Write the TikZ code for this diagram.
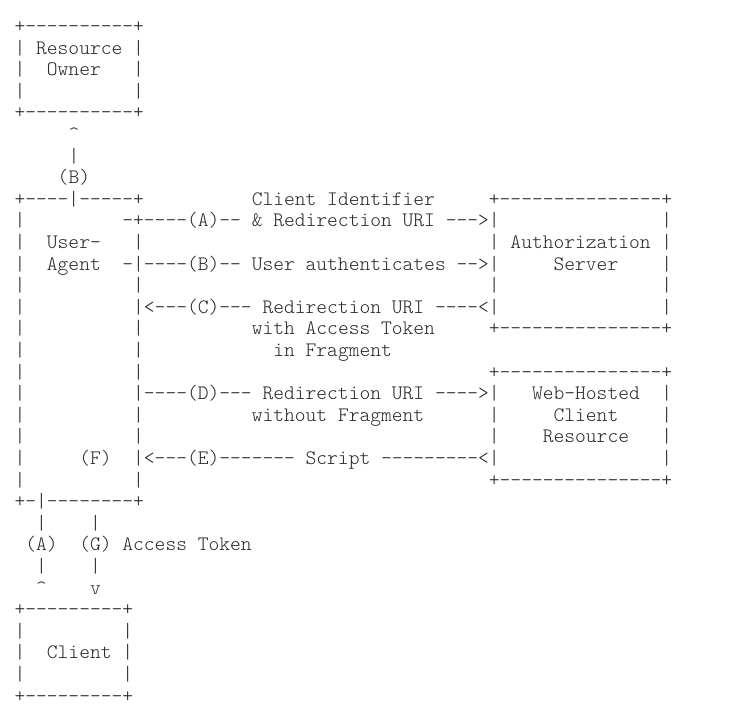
\documentclass[tikz,border=0pt]{standalone}
\usepackage{fontspec}
\setmonofont{lmmonolt10-regular.otf}
\definecolor{ink}{HTML}{262626}
\newcommand\asciirun[4]{\node[asc] (#1) at ({14.6+#3*10.78},{-32.5-(#2-1)*21.6}) {#4};}
\begin{document}
\begin{tikzpicture}[x=1pt,y=1pt,
  asc/.style={anchor=base west, inner sep=0pt, outer sep=0pt, text=ink,
    font=\ttfamily\fontsize{20.533pt}{21.6pt}\selectfont\frenchspacing}]
\useasboundingbox (0,0) rectangle (739,-714);
\fill[white] (0,0) rectangle (739,-714);
% Resource Owner
\asciirun{r1}{1}{0}{+----------+}
\asciirun{r2}{2}{0}{|~Resource~|}
\asciirun{r3}{3}{0}{|~~Owner~~~|}
\asciirun{r4}{4}{0}{|~~~~~~~~~~|}
\asciirun{r5}{5}{0}{+----------+}
\asciirun{r6}{6}{5}{\textasciicircum}
\asciirun{r7}{7}{5}{|}
\asciirun{r8}{8}{4}{(B)}
% row 9
\asciirun{r9a}{9}{0}{+----|-----+}
\asciirun{r9b}{9}{22}{Client~Identifier}
\asciirun{r9c}{9}{44}{+---------------+}
% row 10
\asciirun{r10a}{10}{0}{|}
\asciirun{r10b}{10}{10}{-+----(A)--~\&~Redirection~URI~--->|}
\asciirun{r10c}{10}{60}{|}
% row 11
\asciirun{r11a}{11}{0}{|~~User-~~~|}
\asciirun{r11b}{11}{44}{|~Authorization~|}
% row 12
\asciirun{r12a}{12}{0}{|~~Agent~~-|----(B)--~User~authenticates~-->|}
\asciirun{r12b}{12}{50}{Server}
\asciirun{r12c}{12}{60}{|}
% row 13
\asciirun{r13a}{13}{0}{|}
\asciirun{r13b}{13}{11}{|}
\asciirun{r13c}{13}{44}{|}
\asciirun{r13d}{13}{60}{|}
% row 14
\asciirun{r14a}{14}{0}{|}
\asciirun{r14b}{14}{11}{|<---(C)---~Redirection~URI~----<|}
\asciirun{r14c}{14}{60}{|}
% row 15
\asciirun{r15a}{15}{0}{|}
\asciirun{r15b}{15}{11}{|}
\asciirun{r15c}{15}{22}{with~Access~Token}
\asciirun{r15d}{15}{44}{+---------------+}
% row 16
\asciirun{r16a}{16}{0}{|}
\asciirun{r16b}{16}{11}{|}
\asciirun{r16c}{16}{24}{in~Fragment}
% row 17
\asciirun{r17a}{17}{0}{|}
\asciirun{r17b}{17}{11}{|}
\asciirun{r17c}{17}{44}{+---------------+}
% row 18
\asciirun{r18a}{18}{0}{|}
\asciirun{r18b}{18}{11}{|----(D)---~Redirection~URI~---->|}
\asciirun{r18c}{18}{48}{Web-Hosted}
\asciirun{r18d}{18}{60}{|}
% row 19
\asciirun{r19a}{19}{0}{|}
\asciirun{r19b}{19}{11}{|}
\asciirun{r19c}{19}{22}{without~Fragment}
\asciirun{r19d}{19}{44}{|}
\asciirun{r19e}{19}{50}{Client}
\asciirun{r19f}{19}{60}{|}
% row 20
\asciirun{r20a}{20}{0}{|}
\asciirun{r20b}{20}{11}{|}
\asciirun{r20c}{20}{44}{|}
\asciirun{r20d}{20}{49}{Resource}
\asciirun{r20e}{20}{60}{|}
% row 21
\asciirun{r21a}{21}{0}{|}
\asciirun{r21b}{21}{6}{(F)}
\asciirun{r21c}{21}{11}{|<---(E)-------~Script~---------<|}
\asciirun{r21d}{21}{60}{|}
% row 22
\asciirun{r22a}{22}{0}{|}
\asciirun{r22b}{22}{11}{|}
\asciirun{r22c}{22}{44}{+---------------+}
% row 23
\asciirun{r23}{23}{0}{+-|--------+}
% rows 24-27
\asciirun{r24a}{24}{2}{|}
\asciirun{r24b}{24}{7}{|}
\asciirun{r25a}{25}{1}{(A)}
\asciirun{r25b}{25}{6}{(G)~Access~Token}
\asciirun{r26a}{26}{2}{|}
\asciirun{r26b}{26}{7}{|}
\asciirun{r27a}{27}{2}{\textasciicircum}
\asciirun{r27b}{27}{7}{v}
% Client
\asciirun{r28}{28}{0}{+---------+}
\asciirun{r29}{29}{0}{|~~~~~~~~~|}
\asciirun{r30}{30}{0}{|~~Client~|}
\asciirun{r31}{31}{0}{|~~~~~~~~~|}
\asciirun{r32}{32}{0}{+---------+}
\end{tikzpicture}
\end{document}
